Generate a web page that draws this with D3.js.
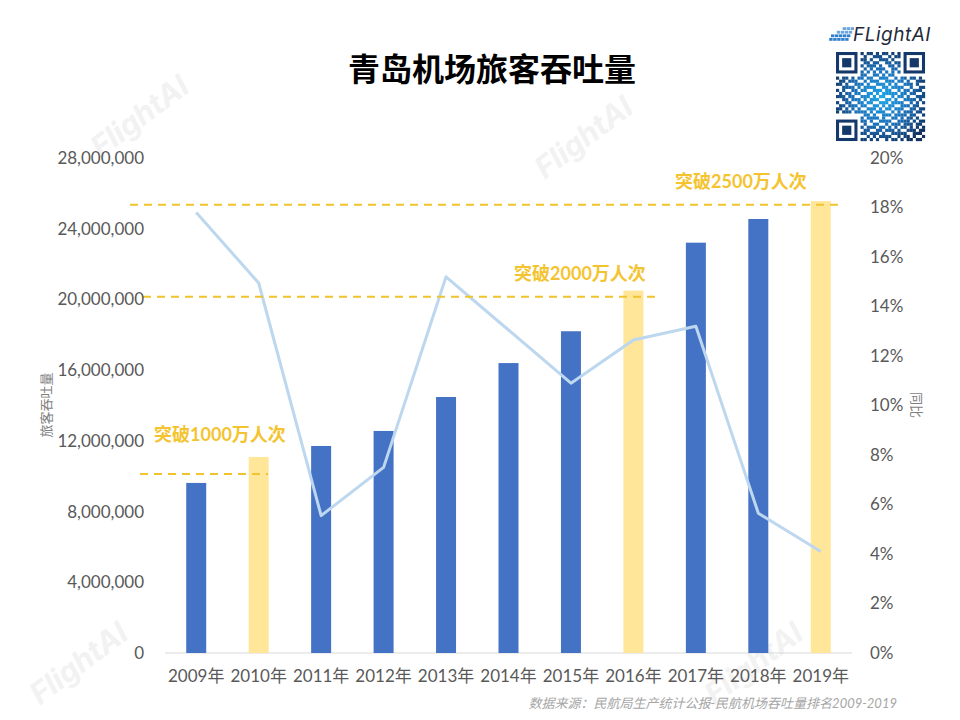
<!DOCTYPE html>
<html>
<head>
<meta charset="utf-8">
<script src="https://cdn.jsdelivr.net/npm/d3@7/dist/d3.min.js"></script>
<style>
  html, body { margin: 0; padding: 0; background: #fff; }
  svg { display: block; }
  text { font-family: Lato, "Noto Sans CJK SC", sans-serif; }
  .axis path, .axis line { display: none; }
  .axis text { fill: #595959; font-size: 17px; }
</style>
</head>
<body>
<svg id="chart" width="960" height="720"></svg>
<script>
// Chart data.
var years = ['2009年', '2010年', '2011年', '2012年', '2013年', '2014年', '2015年', '2016年', '2017年', '2018年', '2019年'];
var passengers = [9620000, 11090000, 11710000, 12560000, 14480000, 16400000, 18200000, 20500000, 23210000, 24550000, 25560000];
var growth = [17.8, 14.95, 5.55, 7.5, 15.2, 13.05, 10.9, 12.65, 13.2, 5.65, 4.1];
var highlightYears = ['2010年', '2016年', '2019年'];
var leftTicks = [0, 4000000, 8000000, 12000000, 16000000, 20000000, 24000000, 28000000];
var rightTicks = [0, 2, 4, 6, 8, 10, 12, 14, 16, 18, 20];

var milestoneLabels = ['突破1000万人次', '突破2000万人次', '突破2500万人次'];
var milestoneLevels = [10120000, 20150000, 25350000];

var watermarkText = 'FlightAI';
var titleText = '青岛机场旅客吞吐量';
var sourceText = '数据来源\uff1a民航局生产统计公报-民航机场吞吐量排名2009-2019';

// Hand-typed body of the QR image (finder squares are added on top).
var qrRows = [
  '00000000101101011010100000000',
  '00000000010011100101100000000',
  '00000000110100111010000000000',
  '00000000011011001101100000000',
  '00000000101110100110100000000',
  '00000000010101110011000000000',
  '00000000101010101010100000000',
  '00000000110011010110000000000',
  '10110101101100111001011011010',
  '01101110010111001110110100111',
  '11010011101001110101001110100',
  '00111101011110011011110010011',
  '10100110110011101100101101110',
  '01011011001101011111011011001',
  '11101100111010110010110100111',
  '00110111010111001101001111010',
  '10011001101100111011110010101',
  '01101110110011010110011101100',
  '11010101001110101101110011011',
  '10111011110101110010101110110',
  '00000000011010011101111011001',
  '00000000101111010011010110100',
  '00000000110100111100111101011',
  '00000000010011001011101110110',
  '00000000101110110101011010101',
  '00000000011001101110100111011',
  '00000000110111010011111001110',
  '00000000001010111100101101001',
  '00000000110101001011010110110'
];

var svg = d3.select('#chart');
var margin = {top: 158, right: 108, bottom: 67, left: 165};
var width = 960 - margin.left - margin.right;
var height = 720 - margin.top - margin.bottom;

var x = d3.scaleBand().domain(years).range([margin.left, margin.left + width]).paddingInner(0.68).paddingOuter(0.34);
var yLeft = d3.scaleLinear().domain([0, 28000000]).range([margin.top + height, margin.top]);
var yRight = d3.scaleLinear().domain([0, 20]).range([margin.top + height, margin.top]);

/**
 * Faint rotated watermarks, behind everything.
 */
function drawWatermarks() {
  var spots = [[141, 118], [585, 139], [80, 665], [755, 665]];
  svg.append('g').selectAll('text').data(spots).enter().append('text')
    .attr('transform', function(d) { return 'translate(' + d[0] + ',' + d[1] + ') rotate(-37)'; })
    .attr('text-anchor', 'middle')
    .attr('dominant-baseline', 'middle')
    .style('font-family', 'Inter, sans-serif')
    .style('font-style', 'italic')
    .style('font-weight', 700)
    .style('font-size', '30px')
    .style('fill', '#f2f2f3')
    .text(watermarkText);
}

/**
 * Logo and QR code in the top right corner.
 */
function drawBadge() {
  var defs = svg.append('defs');
  var grad = defs.append('radialGradient').attr('id', 'qrFill')
    .attr('gradientUnits', 'userSpaceOnUse').attr('cx', 881).attr('cy', 97).attr('r', 52);
  grad.append('stop').attr('offset', '0%').attr('stop-color', '#1fa7ec');
  grad.append('stop').attr('offset', '55%').attr('stop-color', '#1a6fb8');
  grad.append('stop').attr('offset', '100%').attr('stop-color', '#12315f');

  var g = svg.append('g');
  var cell = 3.07, x0 = 836, y0 = 52;

  qrRows.forEach(function(row, r) {
    row.split('').forEach(function(c, k) {
      if (c == '1') {
        g.append('rect').attr('x', x0 + k * cell).attr('y', y0 + r * cell)
          .attr('width', cell + 0.1).attr('height', cell + 0.1).attr('fill', 'url(#qrFill)');
      }
    });
  });

  // Finder squares.
  [[0, 0], [22, 0], [0, 22]].forEach(function(p) {
    g.append('rect').attr('x', x0 + p[0] * cell + cell / 2).attr('y', y0 + p[1] * cell + cell / 2)
      .attr('width', 6 * cell).attr('height', 6 * cell)
      .attr('fill', 'none').attr('stroke', '#15386b').attr('stroke-width', cell);
    g.append('rect').attr('x', x0 + (p[0] + 2) * cell).attr('y', y0 + (p[1] + 2) * cell)
      .attr('width', 3 * cell).attr('height', 3 * cell).attr('fill', '#15386b');
  });

  // Logo: slanted blue panel and the word mark.
  var panel = g.append('g');
  [0, 1, 2, 3].forEach(function(r) {
    [0, 1, 2, 3, 4].forEach(function(k) {
      if (k + r >= 2) {
        panel.append('rect')
          .attr('x', 832 + k * 4 - r * 0.6 + (3 - r) * 1.2 - 1).attr('y', 39 - (3 - r) * 3.6 - 1)
          .attr('width', 3.4).attr('height', 2.8)
          .attr('fill', r > 1 ? '#2f7fd0' : '#6aa6e0');
      }
    });
  });
  g.append('text').attr('x', 853).attr('y', 41)
    .style('font-family', 'Inter, sans-serif')
    .style('font-style', 'italic')
    .style('font-size', '19px')
    .style('letter-spacing', '0.5px')
    .style('fill', '#1f2a3a')
    .text('FLightAI');
}

/**
 * Bars, growth line, axes and milestone notes.
 */
function drawChart() {
  // Baseline.
  svg.append('line')
    .attr('x1', margin.left).attr('x2', margin.left + width)
    .attr('y1', yLeft(0)).attr('y2', yLeft(0))
    .attr('stroke', '#d9d9d9').attr('stroke-width', 1);

  // Bars.
  svg.append('g').selectAll('rect').data(passengers).enter().append('rect')
    .attr('x', function(d, i) { return x(years[i]); })
    .attr('y', function(d) { return yLeft(d); })
    .attr('width', x.bandwidth())
    .attr('height', function(d) { return yLeft(0) - yLeft(d); })
    .attr('fill', function(d, i) {
      return highlightYears.indexOf(years[i]) >= 0 ? '#ffe699' : '#4472c4';
    });

  // Growth line.
  var line = d3.line()
    .x(function(d, i) { return x(years[i]) + x.bandwidth() / 2; })
    .y(function(d) { return yRight(d); });
  svg.append('path').datum(growth)
    .attr('d', line)
    .attr('fill', 'none')
    .attr('stroke', '#bdd7ee')
    .attr('stroke-width', 3)
    .attr('stroke-linejoin', 'round');

  // Milestone dashes start and stop relative to the bands.
  var dashStart = [140, 143, 130];
  var dashEnd = [268, 655, 838];
  var labelX = [220, 580, 741];
  var labelDy = [-39, -23, -23];
  var color = '#efc42f';

  milestoneLevels.forEach(function(level, i) {
    svg.append('line')
      .attr('x1', dashStart[i]).attr('x2', dashEnd[i])
      .attr('y1', yLeft(level)).attr('y2', yLeft(level))
      .attr('stroke', color).attr('stroke-width', 2)
      .attr('stroke-dasharray', '8 6');
    svg.append('text')
      .attr('x', labelX[i]).attr('y', yLeft(level) + labelDy[i] + 6)
      .attr('text-anchor', 'middle')
      .style('font-size', '18px')
      .style('font-weight', 700)
      .style('fill', '#f4c430')
      .text(milestoneLabels[i]);
  });

  // Axes.
  svg.append('g').attr('class', 'axis')
    .attr('transform', 'translate(' + (margin.left - 21) + ',0)')
    .call(d3.axisLeft(yLeft).tickValues(leftTicks).tickSize(0).tickPadding(0).tickFormat(d3.format(',')));
  svg.append('g').attr('class', 'axis')
    .attr('transform', 'translate(' + (margin.left + width + 18) + ',0)')
    .call(d3.axisRight(yRight).tickValues(rightTicks).tickSize(0).tickPadding(0).tickFormat(function(d) { return d + '%'; }));
  svg.append('g').attr('class', 'axis')
    .attr('transform', 'translate(0,' + (yLeft(0) + 17) + ')')
    .call(d3.axisBottom(x).tickSize(0).tickPadding(0));

  // Axis titles.
  svg.append('text')
    .attr('transform', 'translate(51,405) rotate(-90)')
    .attr('text-anchor', 'middle')
    .style('font-size', '13px').style('fill', '#7f7f7f')
    .text('旅客吞吐量');
  svg.append('text')
    .attr('transform', 'translate(912,405) rotate(90)')
    .attr('text-anchor', 'middle')
    .style('font-size', '13px').style('fill', '#7f7f7f')
    .text('同比');
}

/**
 * Title and source note.
 */
function drawText() {
  svg.append('text')
    .attr('x', 492).attr('y', 81)
    .attr('text-anchor', 'middle')
    .style('font-size', '32px').style('font-weight', 700).style('fill', '#000')
    .text(titleText);
  svg.append('text')
    .attr('x', 897).attr('y', 708)
    .attr('text-anchor', 'end')
    .style('font-size', '13px').style('font-style', 'italic').style('fill', '#a6a6a6')
    .text(sourceText);
}

drawWatermarks();
drawBadge();
drawChart();
drawText();
</script>
</body>
</html>
